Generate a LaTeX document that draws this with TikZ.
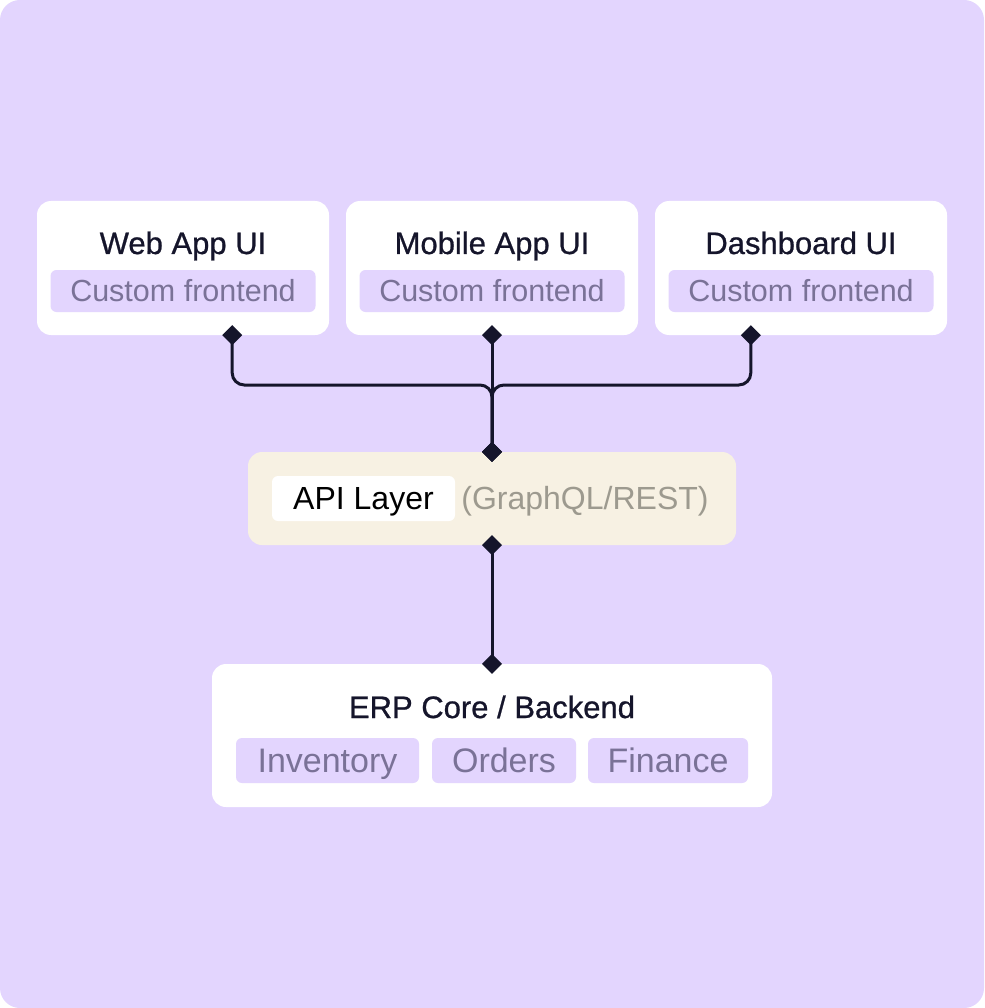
\documentclass[tikz,border=0pt]{standalone}
\usepackage{fontspec}
\setmainfont{Liberation Sans}
\newfontfamily\headfont[FakeBold=0.8]{Liberation Sans}
\usetikzlibrary{arrows.meta, positioning}

\definecolor{lilac}{HTML}{E3D5FE}
\definecolor{cream}{HTML}{F7F1E3}
\definecolor{ink}{HTML}{15152B}
\definecolor{tagtext}{HTML}{7A7297}
\definecolor{apinote}{HTML}{9D9A8F}

\begin{document}
\begin{tikzpicture}[x = 1pt, y = -1pt,
	card/.style = {fill = white, rounded corners = 14pt, inner sep = 0pt},
	heading/.style = {text = ink, inner sep = 0pt, anchor = base, font = \headfont\fontsize{31}{36}\selectfont},
	tag/.style = {fill = lilac, rounded corners = 6pt, inner sep = 0pt, text = tagtext,
		text height = 21.8pt, text depth = 0pt, font = \fontsize{30.5}{36}\selectfont},
	link/.style = {draw = ink, line width = 3pt, rounded corners = 12pt,
		{Diamond[length = 20pt, width = 20pt]}-{Diamond[length = 20pt, width = 20pt]},
		shorten <= -10pt, shorten >= -10pt}]

	% Definitions

	\def\cardw{292}		% width of the front end cards
	\def\cardh{134}		% height of the front end cards
	\def\tagw{265}		% width of the "Custom frontend" tags

	% Background

	\useasboundingbox (0, 0) rectangle (984, 1008);
	\fill [white] (0, 0) rectangle (984, 1008);
	\fill [lilac, rounded corners = 20pt] (0, 0) rectangle (984, 1008);


	% Front end cards

	\foreach \name/\cx/\title in {web/183/Web App UI, mobile/492/Mobile App UI, dash/801/Dashboard UI}
	{
		\node [card, minimum width = \cardw pt, minimum height = \cardh pt] (\name) at (\cx, 268) {};
		\node [heading] (\name title) at (\cx, 254) {\title};
		\node [tag, minimum width = \tagw pt, minimum height = 42pt] (\name tag) at (\cx, 291) {Custom frontend};
	}


	% API layer

	\node [card, fill = cream, minimum width = 488pt, minimum height = 93pt] (api) at (492, 498.5) {};
	\node [fill = white, rounded corners = 6pt, inner sep = 0pt, minimum width = 183pt, minimum height = 45pt,
		text height = 22.9pt, text depth = 0pt, font = \fontsize{32}{38}\selectfont] (apiname) at (363.5, 498.5) {API Layer};
	\node [right = 6pt of apiname, inner sep = 0pt, text = apinote, text height = 22.9pt, text depth = 0pt,
		font = \fontsize{32}{38}\selectfont] (apinote) {(GraphQL/REST)};


	% ERP core with its modules

	\node [card, minimum width = 560pt, minimum height = 143pt] (erp) at (492, 735.5) {};
	\node [heading] (erptitle) at (492, 718) {ERP Core / Backend};

	\foreach \name/\cx/\w/\label in {inv/327.5/183/Inventory, ord/504/144/Orders, fin/668/160/Finance}
		\node [tag, minimum width = \w pt, minimum height = 45pt, text height = 24.3pt,
			font = \fontsize{34}{40}\selectfont] (\name) at (\cx, 760.5) {\label};


	% Connectors

	\coordinate (webpin) at ([xshift = -97pt] web.south east);
	\coordinate (dashpin) at ([xshift = 96pt] dash.south west);
	\coordinate (merge) at (492, 385);

	\draw [link] (webpin) |- (merge) -- (api.north);
	\draw [link] (dashpin) |- (merge) -- (api.north);
	\draw [link] (mobile.south) -- (api.north);
	\draw [link] (api.south) -- (erp.north);

\end{tikzpicture}
\end{document}
